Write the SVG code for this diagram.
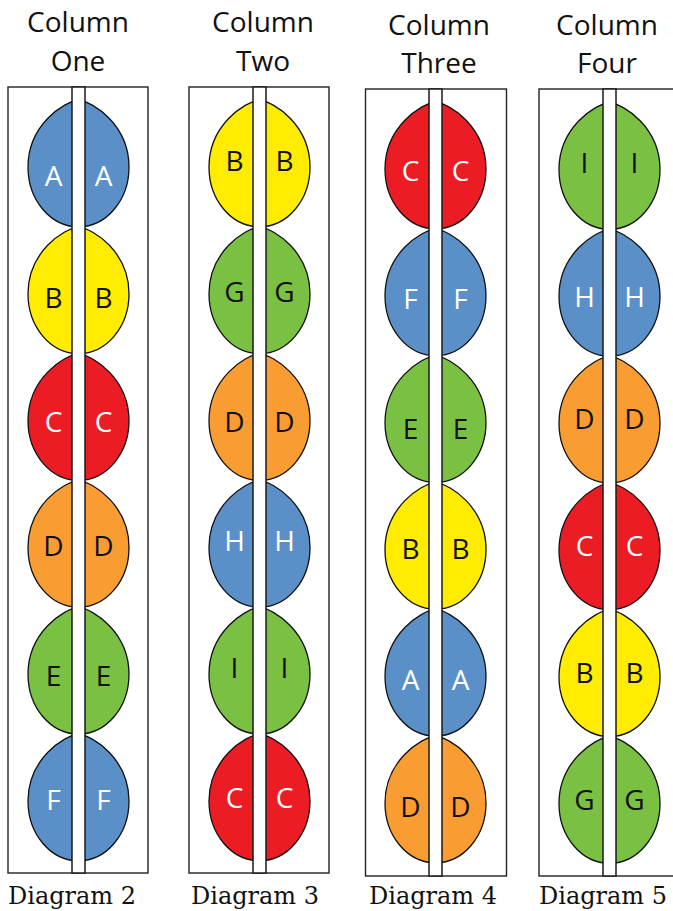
<svg xmlns="http://www.w3.org/2000/svg" xmlns:xlink="http://www.w3.org/1999/xlink" width="673" height="911" viewBox="0 0 673 911">
<style>
.box{fill:#fff;stroke:#222;stroke-width:1.4}
.strip{fill:#fff;stroke:#1a1a1a;stroke-width:1.5}
.bead{stroke:#111;stroke-width:1.3}
.blue{fill:#5B8FC8}.yellow{fill:#FFEC00}.red{fill:#EC1C24}.orange{fill:#F99D33}.green{fill:#7AC043}
.t{font-family:"Open Sans","DejaVu Sans",sans-serif;font-size:28px;text-anchor:middle;fill:#111}
.l{font-family:"Open Sans","DejaVu Sans",sans-serif;font-size:28px;text-anchor:middle}
.w{fill:#fff}.k{fill:#111}
.d{font-family:"DejaVu Serif","Liberation Serif",serif;font-size:24px;fill:#111}
</style>
<defs>
<path id="egg" class="bead" d="M0,0 C15,2 50.5,25 50.5,67 C50.5,100 28,126.8 0,126.8 C-28,126.8 -50.5,100 -50.5,67 C-50.5,25 -15,2 0,0 Z"/>
</defs>

<g id="column1">
<text class="t" x="78" y="32">Column</text>
<text class="t" x="78" y="71">One</text>
<rect class="box" x="8" y="87" width="140" height="786"/>
<use xlink:href="#egg" x="78.5" y="100" class="blue"/>
<use xlink:href="#egg" x="78.5" y="226.8" class="yellow"/>
<use xlink:href="#egg" x="78.5" y="353.6" class="red"/>
<use xlink:href="#egg" x="78.5" y="480.4" class="orange"/>
<use xlink:href="#egg" x="78.5" y="607.2" class="green"/>
<use xlink:href="#egg" x="78.5" y="734" class="blue"/>
<rect class="strip" x="72" y="87" width="13" height="786"/>
<text class="l w" x="53.5" y="186">A</text><text class="l w" x="103.5" y="186">A</text>
<text class="l k" x="53.5" y="308">B</text><text class="l k" x="103.5" y="308">B</text>
<text class="l w" x="53.5" y="432">C</text><text class="l w" x="103.5" y="432">C</text>
<text class="l k" x="53.5" y="556">D</text><text class="l k" x="103.5" y="556">D</text>
<text class="l k" x="53.5" y="686">E</text><text class="l k" x="103.5" y="686">E</text>
<text class="l w" x="53.5" y="810">F</text><text class="l w" x="103.5" y="810">F</text>
<text class="d" x="8" y="904">Diagram 2</text>
</g>

<g id="column2">
<text class="t" x="263" y="32">Column</text>
<text class="t" x="263" y="71">Two</text>
<rect class="box" x="189" y="87" width="140" height="786"/>
<use xlink:href="#egg" x="259.5" y="100" class="yellow"/>
<use xlink:href="#egg" x="259.5" y="226.8" class="green"/>
<use xlink:href="#egg" x="259.5" y="353.6" class="orange"/>
<use xlink:href="#egg" x="259.5" y="480.4" class="blue"/>
<use xlink:href="#egg" x="259.5" y="607.2" class="green"/>
<use xlink:href="#egg" x="259.5" y="734" class="red"/>
<rect class="strip" x="253" y="87" width="13" height="786"/>
<text class="l k" x="234.5" y="171">B</text><text class="l k" x="284.5" y="171">B</text>
<text class="l k" x="234.5" y="302">G</text><text class="l k" x="284.5" y="302">G</text>
<text class="l k" x="234.5" y="432">D</text><text class="l k" x="284.5" y="432">D</text>
<text class="l w" x="234.5" y="551">H</text><text class="l w" x="284.5" y="551">H</text>
<text class="l k" x="234.5" y="678">I</text><text class="l k" x="284.5" y="678">I</text>
<text class="l w" x="234.5" y="808">C</text><text class="l w" x="284.5" y="808">C</text>
<text class="d" x="191" y="904">Diagram 3</text>
</g>

<g id="column3">
<text class="t" x="439" y="35">Column</text>
<text class="t" x="439" y="73">Three</text>
<rect class="box" x="365.5" y="89" width="141" height="787"/>
<use xlink:href="#egg" x="435.5" y="102" class="red"/>
<use xlink:href="#egg" x="435.5" y="228.8" class="blue"/>
<use xlink:href="#egg" x="435.5" y="355.6" class="green"/>
<use xlink:href="#egg" x="435.5" y="482.4" class="yellow"/>
<use xlink:href="#egg" x="435.5" y="609.2" class="blue"/>
<use xlink:href="#egg" x="435.5" y="736" class="orange"/>
<rect class="strip" x="429" y="89" width="13" height="787"/>
<text class="l w" x="410.5" y="181">C</text><text class="l w" x="460.5" y="181">C</text>
<text class="l w" x="410.5" y="309">F</text><text class="l w" x="460.5" y="309">F</text>
<text class="l k" x="410.5" y="439">E</text><text class="l k" x="460.5" y="439">E</text>
<text class="l k" x="410.5" y="559">B</text><text class="l k" x="460.5" y="559">B</text>
<text class="l w" x="410.5" y="690">A</text><text class="l w" x="460.5" y="690">A</text>
<text class="l k" x="410.5" y="817">D</text><text class="l k" x="460.5" y="817">D</text>
<text class="d" x="369" y="904">Diagram 4</text>
</g>

<g id="column4">
<text class="t" x="607" y="35">Column</text>
<text class="t" x="607" y="73">Four</text>
<rect class="box" x="539" y="89" width="145" height="787"/>
<use xlink:href="#egg" x="609.5" y="102.5" class="green"/>
<use xlink:href="#egg" x="609.5" y="229.3" class="blue"/>
<use xlink:href="#egg" x="609.5" y="356.1" class="orange"/>
<use xlink:href="#egg" x="609.5" y="482.9" class="red"/>
<use xlink:href="#egg" x="609.5" y="609.7" class="yellow"/>
<use xlink:href="#egg" x="609.5" y="736.5" class="green"/>
<rect class="strip" x="603" y="89" width="13" height="787"/>
<text class="l k" x="584.5" y="173">I</text><text class="l k" x="634.5" y="173">I</text>
<text class="l w" x="584.5" y="307">H</text><text class="l w" x="634.5" y="307">H</text>
<text class="l k" x="584.5" y="429">D</text><text class="l k" x="634.5" y="429">D</text>
<text class="l w" x="584.5" y="556">C</text><text class="l w" x="634.5" y="556">C</text>
<text class="l k" x="584.5" y="683">B</text><text class="l k" x="634.5" y="683">B</text>
<text class="l k" x="584.5" y="810">G</text><text class="l k" x="634.5" y="810">G</text>
<text class="d" x="539" y="904">Diagram 5</text>
</g>

<g id="connectors"></g>
</svg>
